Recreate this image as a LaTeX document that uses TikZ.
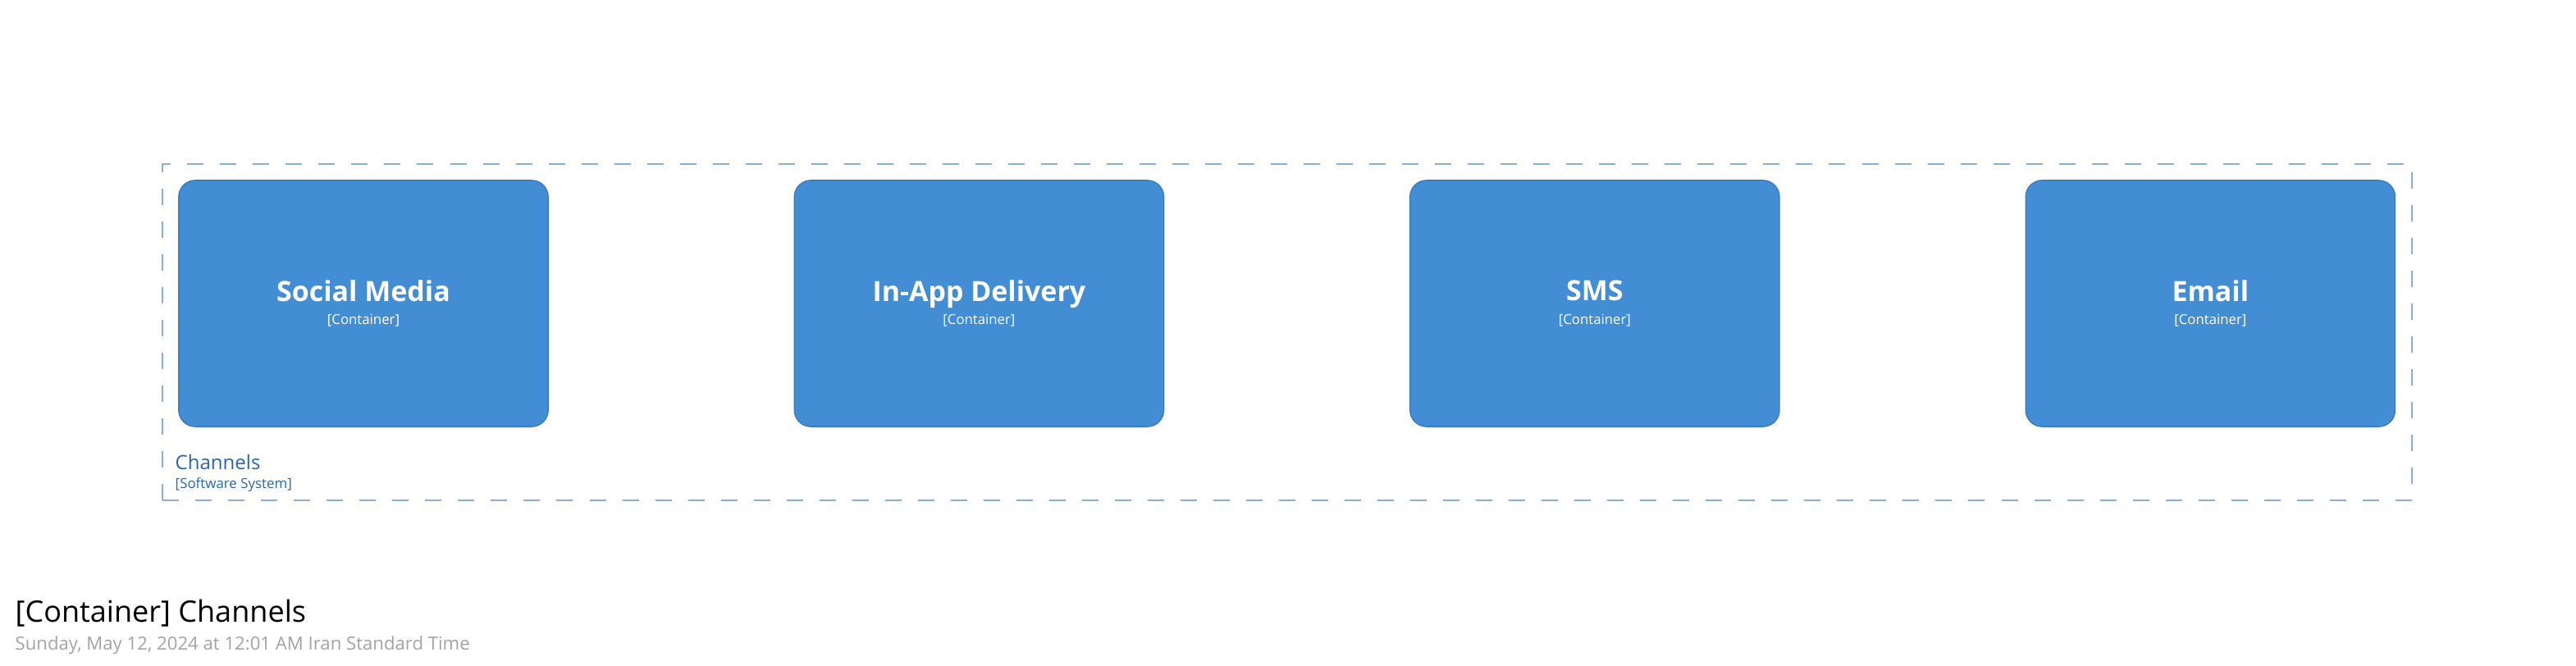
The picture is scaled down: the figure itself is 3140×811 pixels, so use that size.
\documentclass[tikz,border=0pt]{standalone}
\usepackage{fontspec}
\setmainfont{Open Sans}
\usetikzlibrary{positioning}
\definecolor{containerblue}{HTML}{438DD5}
\definecolor{containerline}{HTML}{3A7BBF}
\definecolor{boundaryline}{HTML}{8AAED4}
\definecolor{boundarytext}{HTML}{2A66AE}
\definecolor{stampgray}{HTML}{A3A3A3}
\begin{document}
\begin{tikzpicture}[
  x=0.01cm, y=-0.01cm,
  node distance=3cm,
  container/.style={draw=containerline, line width=0.4pt, fill=containerblue, text=white, rounded corners=0.2cm,
    minimum width=4.5cm, minimum height=3cm, outer sep=0pt, align=center, font=\fontsize{9.65}{8}\selectfont},
  boundary/.style={draw=boundaryline, line width=0.55pt, dash pattern=on 0.2cm off 0.2cm,
    minimum width=27.4cm, minimum height=4.1cm, inner sep=0pt},
  meta/.style={font=\fontsize{4.8}{5.5}\selectfont, inner sep=0pt, anchor=base west}
]
\useasboundingbox (0,0) rectangle (3140,811);
\node[boundary] (channels) at (1569,405) {};
\node[container] (social) at (443,370) {\bfseries Social Media\\{\fontsize{4.77}{8}\selectfont [Container]}};
\node[container, right=of social] (inapp) {\bfseries In-App Delivery\\{\fontsize{4.77}{8}\selectfont [Container]}};
\node[container, right=of inapp] (sms) {\bfseries SMS\\{\fontsize{4.77}{8}\selectfont [Container]}};
\node[container, right=of sms] (email) {\bfseries Email\\{\fontsize{4.77}{8}\selectfont [Container]}};
\node[meta, text=boundarytext, font=\fontsize{6.83}{8}\selectfont] (chname) at (213,572) {Channels};
\node[meta, text=boundarytext] (chtype) at (213,595) {[Software System]};
\node[meta, font=\fontsize{10.25}{12}\selectfont] (title) at (18,758) {[Container] Channels};
\node[meta, text=stampgray, font=\fontsize{6.3}{7.5}\selectfont] (stamp) at (18,792) {Sunday, May 12, 2024 at 12:01 AM Iran Standard Time};
\end{tikzpicture}
\end{document}
